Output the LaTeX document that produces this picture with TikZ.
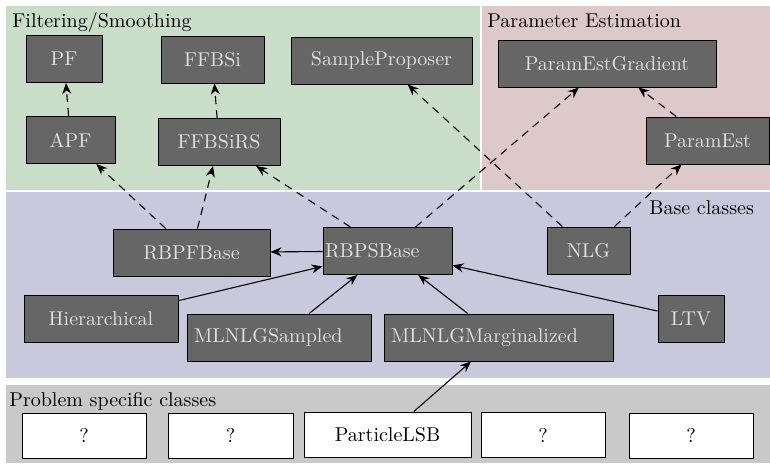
\documentclass[tikz,border=0pt]{standalone}
\usetikzlibrary{arrows.meta}
\definecolor{bgGreen}{RGB}{201,221,201}
\definecolor{bgPink}{RGB}{221,201,202}
\definecolor{bgLav}{RGB}{201,201,222}
\definecolor{bgGrey}{RGB}{201,201,201}
\definecolor{nodeGray}{RGB}{102,102,102}
\definecolor{nodeText}{RGB}{224,224,224}
\begin{document}
\begin{tikzpicture}[x=0.5pt,y=-0.5pt,
  cls/.style={draw=black, line width=0.5pt, fill=nodeGray, text=nodeText, inner sep=0pt, minimum height=23.5pt},
  pbox/.style={draw=black, line width=0.5pt, fill=white, text=black, inner sep=0pt, minimum height=22.5pt},
  lbl/.style={anchor=base west, inner sep=0pt, text=black},
  dep/.style={-{Stealth[length=5.5pt,width=4.5pt]}, line width=0.55pt, dash pattern=on 4pt off 3pt},
  inh/.style={-{Stealth[length=5.5pt,width=4.5pt]}, line width=0.55pt}]
\useasboundingbox (0,0) rectangle (770,463);
% background regions
\fill[bgGreen] (6,6) rectangle (480,189.5);
\fill[bgPink] (482,6) rectangle (770,189.5);
\fill[bgLav] (6,192) rectangle (770,378);
\fill[bgGrey] (6,385) rectangle (770,463);
% region labels
\node[lbl] (tFS) at (12,27) {Filtering/Smoothing};
\node[lbl] (tPE) at (487,27) {Parameter Estimation};
\node[lbl] (tBC) at (649,214) {Base classes};
\node[lbl] (tPS) at (9,406) {Problem specific classes};
% filtering / smoothing
\node[cls, minimum width=38pt] (pf) at (64,59) {PF};
\node[cls, minimum width=51.5pt] (ffbsi) at (212.5,59.5) {FFBSi};
\node[cls, minimum width=90.5pt] (sp) at (381.5,60.5) {SampleProposer};
\node[cls, minimum width=44.5pt] (apf) at (70.5,140) {APF};
\node[cls, minimum width=61pt] (ffbsirs) at (219,142) {FFBSiRS};
% parameter estimation
\node[cls, minimum width=109pt] (peg) at (607,63.5) {ParamEstGradient};
\node[cls, minimum width=61.5pt] (pe) at (707.5,140.5) {ParamEst};
% base classes
\node[cls, minimum width=78.5pt] (rbpf) at (191.5,252.5) {RBPFBase};
\node[cls, text width=62.5pt, inner xsep=1pt, align=left] (rbps) at (387.5,251) {RBPSBase};
\node[cls, minimum width=41.5pt] (nlg) at (588.5,250.5) {NLG};
\node[cls, minimum width=77pt] (hier) at (101,319) {Hierarchical};
\node[cls, text width=85pt, inner xsep=3.5pt, align=left] (mls) at (279,337.5) {MLNLGSampled};
\node[cls, text width=107.5pt, inner xsep=3.5pt, align=left] (mlm) at (498.5,337.5) {MLNLGMarginalized};
\node[cls, minimum width=33pt] (ltv) at (691,318.5) {LTV};
% problem specific
\node[pbox, minimum width=62pt] (q1) at (84,435.5) {?};
\node[pbox, minimum width=62.5pt] (q2) at (230.5,435.5) {?};
\node[pbox, minimum width=83.5pt] (plsb) at (387.5,434.5) {ParticleLSB};
\node[pbox, minimum width=62pt] (q4) at (543,435) {?};
\node[pbox, minimum width=62pt] (q5) at (691,435.5) {?};
% dashed dependencies
\draw[dep] (apf) -- (pf);
\draw[dep] (ffbsirs) -- (ffbsi);
\draw[dep] (rbpf) -- (apf);
\draw[dep] (rbpf) -- (ffbsirs);
\draw[dep] (rbps) -- (ffbsirs);
\draw[dep] (rbps) -- (peg);
\draw[dep] (nlg) -- (sp);
\draw[dep] (nlg) -- (pe);
\draw[dep] (pe) -- (peg);
% inheritance
\draw[inh] (rbps) -- (rbpf);
\draw[inh] (hier) -- (rbps);
\draw[inh] (mls) -- (rbps);
\draw[inh] (mlm) -- (rbps);
\draw[inh] (ltv) -- (rbps);
\draw[inh] (plsb) -- (mlm);
\end{tikzpicture}
\end{document}
